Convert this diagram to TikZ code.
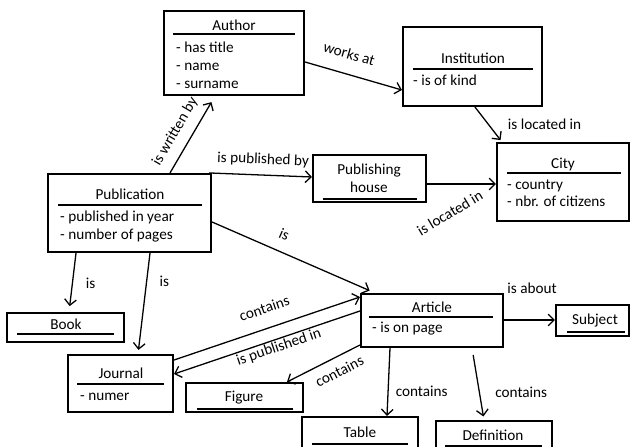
\documentclass[tikz,border=0pt]{standalone}
\usepackage{fontspec}
\setmainfont{Carlito}
\usetikzlibrary{arrows.meta,positioning,fit}
\begin{document}
\begin{tikzpicture}[x=0.03cm,y=-0.03cm,
  every node/.style={font=\fontsize{13pt}{15pt}\selectfont,text height=0.7em,text depth=0.2em},
  box/.style={draw,line width=1.8pt,inner sep=0pt},
  ttl/.style={yshift=-2.5pt},
  rule/.style={line width=1.2pt},
  attr/.style={anchor=west,inner sep=0pt,yshift=-2.5pt},
  lbl/.style={inner sep=1pt},
  rel/.style={->,line width=1.1pt},
  >={Straight Barb[length=5pt,width=10pt]}]
\useasboundingbox (0,0) rectangle (630,447);
\clip (0,0) rectangle (630,447);
% classes
\node[box,fit={(164,11) (304,95)}] (author) {};
\node[ttl] (author-t) at (234,25) {Author};
\draw[rule] (173,34) -- (295,34);
\node[attr] (author-a1) at (176,47) {- has title};
\node[attr] (author-a2) at (176,65) {- name};
\node[attr] (author-a3) at (176,83) {- surname};

\node[box,fit={(403,27) (542,106)}] (inst) {};
\node[ttl] (inst-t) at (473,58) {Institution};
\draw[rule] (413,69) -- (533,69);
\node[attr] (inst-a1) at (413,80) {- is of kind};

\node[box,fit={(497,143) (629,221)}] (city) {};
\node[ttl] (city-t) at (563,163) {City};
\draw[rule] (507,173) -- (621,173);
\node[attr] (city-a1) at (507,184) {- country};
\node[attr] (city-a2) at (507,201) {- nbr. of citizens};

\node[box,fit={(313,155) (426,202)}] (ph) {};
\node[ttl] (ph-t1) at (369,169) {Publishing};
\node[ttl] (ph-t2) at (369,187) {house};
\draw[rule] (323,199) -- (417,199);

\node[box,fit={(48,174) (211,252)}] (pub) {};
\node[ttl] (pub-t) at (130,194) {Publication};
\draw[rule] (58,205) -- (202,205);
\node[attr] (pub-a1) at (60,216) {- published in year};
\node[attr] (pub-a2) at (60,234) {- number of pages};

\node[box,fit={(7,313) (124,342)}] (book) {};
\node[ttl] (book-t) at (66,324) {Book};
\draw[rule] (17,334) -- (114,334);

\node[box,fit={(68,355) (173,412)}] (jour) {};
\node[ttl] (jour-t) at (121,373) {Journal};
\draw[rule] (77,384) -- (164,384);
\node[attr] (jour-a1) at (80,395) {- numer};

\node[box,fit={(186,383) (303,412)}] (fig) {};
\node[ttl] (fig-t) at (244,396) {Figure};
\draw[rule] (197,409) -- (293,409);

\node[box,fit={(361,294) (503,347)}] (art) {};
\node[ttl] (art-t) at (432,307) {Article};
\draw[rule] (369,317) -- (493,317);
\node[attr] (art-a1) at (372,327) {- is on page};

\node[box,fit={(556,305) (629,336)}] (subj) {};
\node[ttl] (subj-t) at (595,319) {Subject};
\draw[rule] (567,332) -- (625,332);

\node[box,fit={(302,417) (418,460)}] (tab) {};
\node[ttl] (tab-t) at (360,432) {Table};
\draw[rule] (312,444) -- (408,444);

\node[box,fit={(436,421) (552,460)}] (def) {};
\node[ttl] (def-t) at (493,435) {Definition};
\draw[rule] (445,446) -- (542,446);

% relations
\draw[rel,shorten >=6pt] (170,0 |- pub.north) -- node[lbl,sloped,above=7pt,pos=0.43] (l-written) {is written by} (215,0 |- author.south);
\draw[rel] (author.east |- 0,62) -- node[lbl,sloped,above=9pt,pos=0.4] (l-works) {works at} (inst.west |- 0,90);
\draw[rel,shorten >=2pt] (475,0 |- inst.south) -- node[lbl,right=15pt,pos=0.5,yshift=-2pt] (l-inst-city) {is located in} (502,0 |- city.north);
\draw[rel] (209,0 |- pub.north) -- node[lbl,sloped,above=6pt,pos=0.52] (l-pubby) {is published by} (ph.west |- 0,177);
\draw[rel] (ph.east |- 0,184) -- (city.west |- 0,184);
\node[lbl,rotate=31] (l-ph-city) at (451,215) {is located in};
\draw[rel,shorten >=5pt] (pub.east |- 0,222) -- node[lbl,sloped,above=7pt,pos=0.4] (l-is-art) {is} (375,0 |- art.north);
\draw[rel,shorten >=5pt] (76,0 |- pub.south) -- node[lbl,right=10pt,pos=0.52,yshift=-2pt] (l-is-book) {is} (69,0 |- book.north);
\draw[rel,shorten >=3.5pt] (150,0 |- pub.south) -- node[lbl,right=9.5pt,pos=0.28,yshift=-2pt] (l-is-jour) {is} (138,0 |- jour.north);
\draw[rel] (jour.east |- 0,360) -- node[lbl,sloped,above=9pt,pos=0.52] (l-jour-cont) {contains} (art.west |- 0,297);
\draw[rel,<-] (jour.east |- 0,374) -- node[lbl,sloped,below=2pt,pos=0.55] (l-pubin) {is published in} (art.west |- 0,311);
\draw[rel,<-] (287,0 |- fig.north) -- node[lbl,sloped,below=8pt,pos=0.63] (l-fig) {contains} (art.west |- 0,345);
\draw[rel] (390,0 |- art.south) -- node[lbl,right=5pt,pos=0.64,yshift=-2pt] (l-tab) {contains} (387,0 |- tab.north);
\draw[rel,shorten <=6pt,shorten >=3pt] (472,0 |- art.south) -- node[lbl,right=12pt,pos=0.62,yshift=-2pt] (l-def) {contains} (484,0 |- def.north);
\draw[rel] (art.east |- 0,320) -- node[lbl,above=20pt,pos=0.55,yshift=-1pt] (l-about) {is about} (subj.west |- 0,320);
\end{tikzpicture}
\end{document}
